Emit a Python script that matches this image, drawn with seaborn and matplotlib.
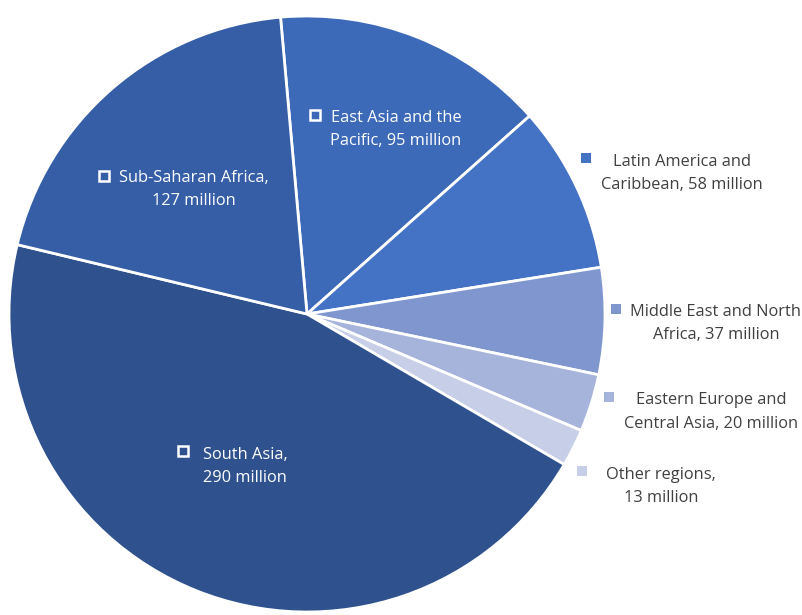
import matplotlib.pyplot as plt
import seaborn as sns

# people in extreme poverty by region (millions)
regions = ["East Asia and the Pacific", "Latin America and Caribbean",
           "Middle East and North Africa", "Eastern Europe and Central Asia",
           "Other regions", "South Asia", "Sub-Saharan Africa"]
values = [95, 58, 37, 20, 13, 290, 127]
colors = ["#3C69B8", "#4472C4", "#7F96CF", "#A6B3DA",
          "#C6CEE8", "#2F528F", "#355EA6"]
label_lines = [["East Asia and the", "Pacific, 95 million"],
               ["Latin America and", "Caribbean, 58 million"],
               ["Middle East and North", "Africa, 37 million"],
               ["Eastern Europe and", "Central Asia, 20 million"],
               ["Other regions,", "13 million"],
               ["South Asia,", "290 million"],
               ["Sub-Saharan Africa,", "127 million"]]
inside = [True, False, False, False, False, True, True]

W, H = 803, 615
# label placement in pixels: marker (x, y), text centre x, first line y
label_pos = [((315, 115), 396, 118),
             ((586, 158), 682, 162),
             ((616, 309), 716, 312),
             ((609, 397), 711, 400),
             ((582, 471), 661, 475),
             ((183, 451), 245, 455),
             ((104, 176), 194, 178)]

sns.set_theme(style="white")
plt.rcParams['font.family'] = ['Open Sans', 'DejaVu Sans']

fig = plt.figure(figsize=(W / 100, H / 100), dpi=100)
ax = fig.add_axes([0, 0, 1, 1])

ax.pie(values, colors=colors, startangle=95.1, counterclock=False,
       center=(307, H - 314), radius=298,
       wedgeprops=dict(edgecolor="white", linewidth=2))
# pie() resets the limits, so set them afterwards
ax.set_xlim(0, W)
ax.set_ylim(0, H)
ax.set_aspect("equal")
ax.axis("off")

for lines, (mk, tx, ty), inner, col in zip(label_lines, label_pos,
                                           inside, colors):
    if inner:
        ax.plot(mk[0], H - mk[1], marker="s", markersize=7.5,
                markerfacecolor="none", markeredgecolor="white",
                markeredgewidth=1.8)
        tcol = "white"
    else:
        ax.plot(mk[0], H - mk[1], marker="s", markersize=6.5,
                color=col, markeredgewidth=0)
        tcol = "#404040"
    for i, line in enumerate(lines):
        ax.text(tx, H - (ty + i * 23.5), line, ha="center", va="center",
                color=tcol, fontsize=11.8)

fig.savefig("out.png", dpi=100)
